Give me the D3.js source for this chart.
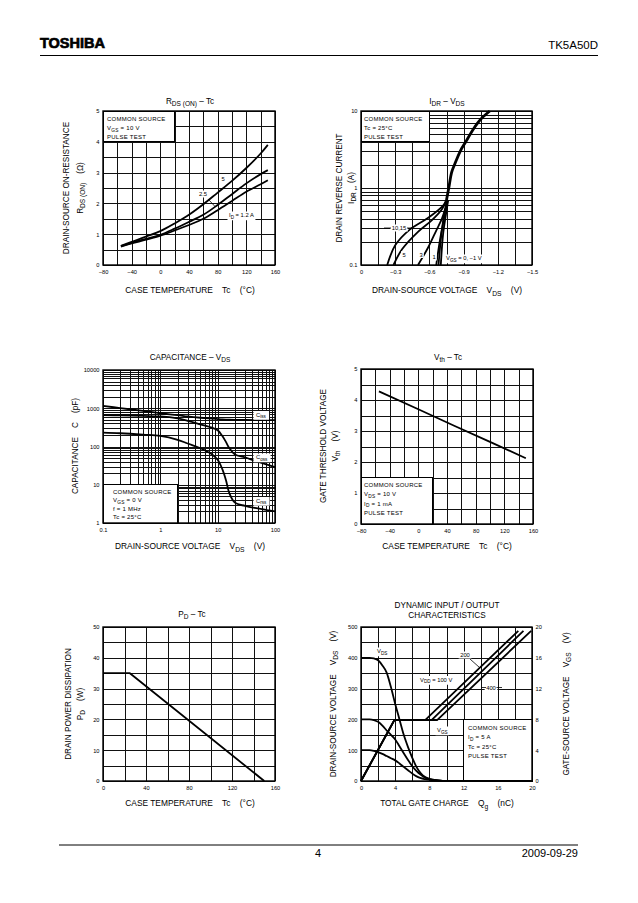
<!DOCTYPE html>
<html><head><meta charset="utf-8">
<script src="https://cdn.jsdelivr.net/npm/d3@7"></script>
<style>
body{margin:0;background:#fff}
svg{display:block}
text{font-family:"Liberation Sans",Arial,sans-serif;fill:#000;white-space:pre}
</style>
</head><body>
<svg id="c" width="638" height="903"></svg>
<script>
// ---------------- DATA ----------------
// R_DS(ON) – Tc
const rdsTc     = [-55,-40,-20,0,20,40,60,80,100,120,140,150];
const rdsId5    = [0.62,0.75,0.92,1.10,1.35,1.63,1.97,2.35,2.73,3.15,3.62,3.90];
const rdsId2p5  = [0.61,0.72,0.85,0.98,1.18,1.40,1.63,1.95,2.30,2.65,2.95,3.08];
const rdsId1p2  = [0.60,0.70,0.82,0.95,1.12,1.30,1.50,1.78,2.08,2.38,2.62,2.75];
const rdsXTicks = [-80,-40,0,40,80,120,160];
const rdsYTicks = [0,1,2,3,4,5];

// I_DR – V_DS
const idrCommonV = [-0.75,-0.77,-0.795,-0.82,-0.87,-0.92,-0.985,-1.05,-1.13];
const idrCommonI = [0.7,1,1.6,2,3,4,5.8,7.8,10];
const idrVgs10V  = [-0.23,-0.30,-0.43,-0.59,-0.72,-0.75];
const idrVgs10I  = [0.1,0.18,0.29,0.41,0.59,0.7];
const idrVgs5V   = [-0.285,-0.36,-0.50,-0.62,-0.71,-0.75];
const idrVgs5I   = [0.1,0.16,0.27,0.38,0.53,0.7];
const idrVgs3V   = [-0.50,-0.59,-0.66,-0.71,-0.74,-0.755];
const idrVgs3I   = [0.1,0.17,0.28,0.40,0.55,0.7];
const idrVgs1V   = [-0.66,-0.69,-0.72,-0.745,-0.76];
const idrVgs1I   = [0.1,0.2,0.35,0.55,0.7];
const idrVgs0V   = [-0.68,-0.705,-0.73,-0.76];
const idrVgs0I   = [0.1,0.25,0.45,0.7];
const idrVgsM1V  = [-0.70,-0.72,-0.745,-0.765];
const idrVgsM1I  = [0.1,0.25,0.45,0.7];
const idrXTicks  = [0,-0.3,-0.6,-0.9,-1.2,-1.5];
const idrYTicks  = [0.1,1,10];

// Capacitance – V_DS
const capV = [0.1,0.2,0.5,1,2,3,5,8,10,12,14,16,20,30,50,100];
const ciss = [1150,1010,850,740,660,610,565,535,522,512,506,502,498,494,490,488];
const coss = [660,650,630,610,540,470,380,310,265,190,130,90,62,52,40,29];
const crss = [230,222,205,190,150,120,90,62,45,26,13,6,3.4,2.8,2.4,2.0];
const capXTicks = [0.1,1,10,100];
const capYTicks = [1,10,100,1000,10000];

// Vth – Tc
const vthTc = [-55,0,50,100,150];
const vth   = [4.28,3.70,3.17,2.65,2.12];
const vthYTicks = [0,1,2,3,4,5];

// PD – Tc
const pdTc = [0,25,150];
const pd   = [35,35,0];
const pdXTicks = [0,40,80,120,160];
const pdYTicks = [0,10,20,30,40,50];

// Dynamic input/output
const qgVds  = [0,1,1.5,2,2.5,3,3.5,4,4.5,5,5.5,6,6.5,7,7.5,8,9,10,20];
const vds400 = [400,400,398,392,375,352,305,250,200,150,110,75,45,25,13,7,2,0,0];
const vds200 = [200,200,198,192,180,164,150,135,113,90,68,48,32,20,11,6,2,0,0];
const vds100 = [100,100,98,94,88,81,74,67,57,46,35,24,15,9,6,4,1,0,0];
const qgVgs100 = [0,3.9,7.5,18.4];  const vgs100 = [0,7.9,7.9,19.5];
const qgVgs200 = [0,3.9,8.25,19.0]; const vgs200 = [0,7.9,7.9,19.5];
const qgVgs400 = [0,3.9,8.9,19.9];  const vgs400 = [0,7.9,7.9,19.5];
const dynXTicks = [0,4,8,12,16,20];
const dynYTicks = [0,100,200,300,400,500];
const dynY2Ticks = [0,4,8,12,16,20];

// ---------------- HELPERS ----------------
const svg = d3.select("#c");
const zip = (a,b) => a.map((v,i)=>[v,b[i]]);
const fmtMinus = d => d < 0 ? "\u2212" + Math.abs(d) : String(d);
const LAB = 8.4;      // axis label font size
const SP = "    ";    // gap between label parts

function rt(parent, x, y, parts, size, anchor, rot) {
  const t = parent.append("text").attr("x",x).attr("y",y)
    .attr("font-size",size).attr("text-anchor",anchor||"start");
  if (rot) t.attr("transform",`rotate(-90 ${x} ${y})`);
  let sub = false;
  parts.forEach(p => {
    const isSub = Array.isArray(p);
    const ts = t.append("tspan").text(isSub ? p[0] : p);
    if (isSub) {
      ts.attr("font-size", size*0.8);
      if (!sub) { ts.attr("dy", size*0.3); sub = true; }
    } else if (sub) { ts.attr("dy", -size*0.3); sub = false; }
  });
  return t;
}
function bg(t, pad) {
  const b = t.node().getBBox();
  d3.select(t.node().parentNode).insert("rect", () => t.node())
    .attr("x", b.x-pad).attr("y", b.y-0.5).attr("width", b.width+2*pad).attr("height", b.height+1)
    .attr("fill","#fff");
}

function panel(o) {
  const g = svg.append("g");
  const gx = g.append("g").attr("transform",`translate(0,${o.b})`)
    .call(d3.axisBottom(o.x).tickValues(o.xGrid).tickSize(-(o.b-o.t)).tickFormat(""));
  gx.select(".domain").remove();
  gx.selectAll("line").attr("stroke","#111").attr("stroke-width",1).attr("shape-rendering","crispEdges");
  const gy = g.append("g").attr("transform",`translate(${o.l},0)`)
    .call(d3.axisLeft(o.y).tickValues(o.yGrid).tickSize(-(o.r-o.l)).tickFormat(""));
  gy.select(".domain").remove();
  gy.selectAll("line").attr("stroke","#111").attr("stroke-width",1).attr("shape-rendering","crispEdges");
  (o.boxes||[]).forEach(bx => {
    const x0 = o.x(bx[0]), x1 = o.x(bx[1]), y0 = o.y(bx[2]), y1 = o.y(bx[3]);
    g.append("rect").attr("x",Math.min(x0,x1)).attr("y",Math.min(y0,y1))
      .attr("width",Math.abs(x1-x0)).attr("height",Math.abs(y1-y0))
      .attr("fill","#fff").attr("stroke","#000").attr("stroke-width",1).attr("shape-rendering","crispEdges");
  });
  g.append("rect").attr("x",o.l).attr("y",o.t).attr("width",o.r-o.l).attr("height",o.b-o.t)
    .attr("fill","none").attr("stroke","#000").attr("stroke-width",1.4);
  const ax = g.append("g").attr("transform",`translate(0,${o.b})`)
    .call(d3.axisBottom(o.x).tickValues(o.xTicks).tickSize(0).tickPadding(5).tickFormat(o.xFmt||fmtMinus));
  ax.select(".domain").remove();
  ax.attr("font-family",null).attr("font-size",5.7);
  const ay = g.append("g").attr("transform",`translate(${o.l},0)`)
    .call(d3.axisLeft(o.y).tickValues(o.yTicks).tickSize(0).tickPadding(3.5).tickFormat(o.yFmt||fmtMinus));
  ay.select(".domain").remove();
  ay.attr("font-family",null).attr("font-size",5.7);
  return g;
}
function curve(g, pts, x, y, c, w) {
  g.append("path").datum(pts)
    .attr("d", d3.line().x(d=>x(d[0])).y(d=>y(d[1])).curve(c||d3.curveCatmullRom))
    .attr("fill","none").attr("stroke","#000").attr("stroke-width",w||1.8)
    .attr("stroke-linejoin","round");
}
function legendText(g, x, y0, step, lines) {
  lines.forEach((ln,i) => rt(g, x, y0 + i*step, ln, 6, "start").attr("letter-spacing",0.25));
}
const linspace = (a,b,s) => d3.range(a, b + s/2, s);
const logGrid = (lo, hi) => { const v=[]; for (let d=lo; d<hi; d*=10) for (let k=1;k<10;k++) v.push(+(d*k).toPrecision(3)); v.push(hi); return v; };

// ---------------- HEADER / FOOTER ----------------
svg.append("text").attr("x",40).attr("y",48).attr("font-size",14.5)
  .attr("font-family","DejaVu Sans").attr("font-weight","bold")
  .attr("stroke","#000").attr("stroke-width",0.7)
  .attr("textLength",65).attr("lengthAdjust","spacingAndGlyphs").text("TOSHIBA");
svg.append("text").attr("x",598).attr("y",49).attr("font-size",11.5).attr("text-anchor","end").text("TK5A50D");
svg.append("line").attr("x1",40).attr("x2",598).attr("y1",55.5).attr("y2",55.5).attr("stroke","#000").attr("stroke-width",1);
svg.append("line").attr("x1",59).attr("x2",578).attr("y1",845).attr("y2",845).attr("stroke","#000").attr("stroke-width",1);
svg.append("text").attr("x",318).attr("y",857).attr("font-size",11).attr("text-anchor","middle").text("4");
svg.append("text").attr("x",578).attr("y",857).attr("font-size",11).attr("text-anchor","end").text("2009-09-29");

// ---------------- CHART 1: RDS(ON) – Tc ----------------
{
  const o = {l:103,r:275,t:111,b:265};
  o.x = d3.scaleLinear().domain([-80,160]).range([o.l,o.r]);
  o.y = d3.scaleLinear().domain([0,5]).range([o.b,o.t]);
  o.xGrid = linspace(-80,160,20); o.yGrid = linspace(0,5,0.5);
  o.xTicks = rdsXTicks; o.yTicks = rdsYTicks;
  o.boxes = [[-80,20,4,5]];
  const g = panel(o);
  legendText(g, 107, 121, 9, [["COMMON SOURCE"],["V",["GS"]," = 10 V"],["PULSE TEST"]]);
  curve(g, zip(rdsTc,rdsId5), o.x, o.y);
  curve(g, zip(rdsTc,rdsId2p5), o.x, o.y);
  curve(g, zip(rdsTc,rdsId1p2), o.x, o.y);
  bg(rt(g, 223, 181, ["5"], 5.8, "middle"), 1.5);
  bg(rt(g, 203, 196, ["2.5"], 5.8, "middle"), 1.5);
  g.append("line").attr("x1",208).attr("y1",199).attr("x2",215.5).attr("y2",207).attr("stroke","#000").attr("stroke-width",0.8);
  bg(rt(g, 229, 217, ["I",["D"]," = 1.2 A"], 5.8, "start"), 1.5);
  rt(svg, 190, 104, ["R",["DS (ON)"]," \u2013 Tc"], 8.2, "middle");
  rt(svg, 190, 293, ["CASE TEMPERATURE"+SP+"Tc"+SP+"(\u00B0C)"], LAB, "middle");
  rt(svg, 69, 188, ["DRAIN-SOURCE ON-RESISTANCE"], 8.2, "middle", true);
  rt(svg, 83, 188, ["R",["DS (ON)"],SP+"(\u03A9)"], 8.2, "middle", true);
}

// ---------------- CHART 2: IDR – VDS ----------------
{
  const o = {l:361,r:532,t:111,b:265};
  o.x = d3.scaleLinear().domain([0,-1.5]).range([o.l,o.r]);
  o.y = d3.scaleLog().domain([0.1,10]).range([o.b,o.t]);
  o.xGrid = linspace(0,1.5,0.15).map(v=>-v); o.yGrid = logGrid(0.1,10);
  o.xTicks = idrXTicks; o.yTicks = idrYTicks;
  o.xFmt = d => d===0 ? "0" : "\u2212" + Math.abs(d).toFixed(1);
  o.yFmt = d => String(d);
  o.boxes = [[0,-0.6,4,10]];
  const g = panel(o);
  legendText(g, 364, 121, 9, [["COMMON SOURCE"],["Tc = 25\u00B0C"],["PULSE TEST"]]);
  curve(g, zip(idrVgs10V,idrVgs10I), o.x, o.y);
  curve(g, zip(idrVgs5V,idrVgs5I), o.x, o.y);
  curve(g, zip(idrVgs3V,idrVgs3I), o.x, o.y);
  curve(g, zip(idrVgs1V,idrVgs1I), o.x, o.y);
  curve(g, zip(idrVgs0V,idrVgs0I), o.x, o.y);
  curve(g, zip(idrVgsM1V,idrVgsM1I), o.x, o.y);
  curve(g, zip(idrCommonV,idrCommonI), o.x, o.y, d3.curveCatmullRom, 2.8);
  const t1 = rt(g, 399, 230, ["10,15"], 5.8, "middle"); bg(t1,1.5);
  g.append("line").attr("x1",384).attr("x2",391).attr("y1",228).attr("y2",228).attr("stroke","#000").attr("stroke-width",0.8);
  g.append("line").attr("x1",407).attr("x2",413).attr("y1",228).attr("y2",228).attr("stroke","#000").attr("stroke-width",0.8);
  bg(rt(g, 404, 256.5, ["5"], 5.8, "middle"), 1.2);
  bg(rt(g, 421, 256.5, ["3"], 5.8, "middle"), 1.2);
  bg(rt(g, 434, 259, ["1"], 5.8, "middle"), 1.2);
  bg(rt(g, 446, 260, ["V",["GS"]," = 0, \u22121 V"], 5.8, "start"), 1.5);
  rt(svg, 447, 104, ["I",["DR"]," \u2013 V",["DS"]], 8.2, "middle");
  rt(svg, 447, 293, ["DRAIN-SOURCE VOLTAGE"+SP+"V",["DS"],SP+"(V)"], LAB, "middle");
  rt(svg, 342, 188, ["DRAIN REVERSE CURRENT"], 8.2, "middle", true);
  rt(svg, 354, 188, ["I",["DR"],SP+"(A)"], 8.2, "middle", true);
}

// ---------------- CHART 3: Capacitance ----------------
{
  const o = {l:103,r:275,t:370,b:523};
  o.x = d3.scaleLog().domain([0.1,100]).range([o.l,o.r]);
  o.y = d3.scaleLog().domain([1,10000]).range([o.b,o.t]);
  o.xGrid = logGrid(0.1,100); o.yGrid = logGrid(1,10000);
  o.xTicks = capXTicks; o.yTicks = capYTicks;
  o.xFmt = d => String(d); o.yFmt = d => String(d);
  o.boxes = [[0.1,2,1,10]];
  const g = panel(o);
  legendText(g, 113, 493.5, 8.6, [["COMMON SOURCE"],["V",["GS"]," = 0 V"],["f = 1 MHz"],["Tc = 25\u00B0C"]]);
  curve(g, zip(capV,ciss), o.x, o.y);
  curve(g, zip(capV,coss), o.x, o.y);
  curve(g, zip(capV,crss), o.x, o.y);
  bg(rt(g, 256, 416.5, ["C",["iss"]], 5.8, "start"), 2.5);
  bg(rt(g, 256, 459, ["C",["oss"]], 5.8, "start"), 2.5);
  bg(rt(g, 256, 502.5, ["C",["rss"]], 5.8, "start"), 2.5);
  rt(svg, 190, 360, ["CAPACITANCE \u2013 V",["DS"]], 8.2, "middle");
  rt(svg, 190, 549, ["DRAIN-SOURCE VOLTAGE"+SP+"V",["DS"],SP+"(V)"], LAB, "middle");
  rt(svg, 78, 446, ["CAPACITANCE"+SP+"C"+SP+"(pF)"], 8.2, "middle", true);
}

// ---------------- CHART 4: Vth – Tc ----------------
{
  const o = {l:361,r:533,t:369,b:524};
  o.x = d3.scaleLinear().domain([-80,160]).range([o.l,o.r]);
  o.y = d3.scaleLinear().domain([0,5]).range([o.b,o.t]);
  o.xGrid = linspace(-80,160,20); o.yGrid = linspace(0,5,0.5);
  o.xTicks = rdsXTicks; o.yTicks = vthYTicks;
  o.boxes = [[-80,20,0,1.5]];
  const g = panel(o);
  legendText(g, 364, 487, 9.3, [["COMMON SOURCE"],["V",["DS"]," = 10 V"],["I",["D"]," = 1 mA"],["PULSE TEST"]]);
  curve(g, zip(vthTc,vth), o.x, o.y, d3.curveLinear);
  rt(svg, 448, 360, ["V",["th"]," \u2013 Tc"], 8.2, "middle");
  rt(svg, 447, 549, ["CASE TEMPERATURE"+SP+"Tc"+SP+"(\u00B0C)"], LAB, "middle");
  rt(svg, 326, 446, ["GATE THRESHOLD VOLTAGE"], 8.2, "middle", true);
  rt(svg, 338, 446, ["V",["th"],SP+"(V)"], 8.2, "middle", true);
}

// ---------------- CHART 5: PD – Tc ----------------
{
  const o = {l:103,r:275,t:627,b:781};
  o.x = d3.scaleLinear().domain([0,160]).range([o.l,o.r]);
  o.y = d3.scaleLinear().domain([0,50]).range([o.b,o.t]);
  o.xGrid = linspace(0,160,20); o.yGrid = linspace(0,50,5);
  o.xTicks = pdXTicks; o.yTicks = pdYTicks;
  const g = panel(o);
  curve(g, zip(pdTc,pd), o.x, o.y, d3.curveLinear);
  rt(svg, 192, 617, ["P",["D"]," \u2013 Tc"], 8.2, "middle");
  rt(svg, 190, 806, ["CASE TEMPERATURE"+SP+"Tc"+SP+"(\u00B0C)"], LAB, "middle");
  rt(svg, 71, 704, ["DRAIN POWER DISSIPATION"], 8.2, "middle", true);
  rt(svg, 83, 704, ["P",["D"],SP+"(W)"], 8.2, "middle", true);
}

// ---------------- CHART 6: Dynamic ----------------
{
  const o = {l:361,r:532,t:627,b:781};
  o.x = d3.scaleLinear().domain([0,20]).range([o.l,o.r]);
  o.y = d3.scaleLinear().domain([0,500]).range([o.b,o.t]);
  const y2 = d3.scaleLinear().domain([0,20]).range([o.b,o.t]);
  o.xGrid = linspace(0,20,2); o.yGrid = linspace(0,500,50);
  o.xTicks = dynXTicks; o.yTicks = dynYTicks;
  o.boxes = [[12,20,0,200]];
  const g = panel(o);
  const ar = g.append("g").attr("transform",`translate(${o.r},0)`)
    .call(d3.axisRight(y2).tickValues(dynY2Ticks).tickSize(0).tickPadding(3.5));
  ar.select(".domain").remove();
  ar.attr("font-family",null).attr("font-size",5.7);
  legendText(g, 468, 729.5, 9.5, [["COMMON SOURCE"],["I",["D"]," = 5 A"],["Tc = 25\u00B0C"],["PULSE TEST"]]);
  curve(g, zip(qgVds,vds400), o.x, o.y, d3.curveMonotoneX);
  curve(g, zip(qgVds,vds200), o.x, o.y, d3.curveMonotoneX);
  curve(g, zip(qgVds,vds100), o.x, o.y, d3.curveMonotoneX);
  curve(g, zip(qgVgs100,vgs100), o.x, y2, d3.curveLinear);
  curve(g, zip(qgVgs200,vgs200), o.x, y2, d3.curveLinear);
  curve(g, zip(qgVgs400,vgs400), o.x, y2, d3.curveLinear);
  bg(rt(g, 377, 653, ["V",["DS"]], 5.8, "start"), 1.5);
  bg(rt(g, 465, 657, ["200"], 5.8, "middle"), 1.5);
  g.append("line").attr("x1",470).attr("y1",659).attr("x2",479.5).attr("y2",667.5).attr("stroke","#000").attr("stroke-width",0.8);
  bg(rt(g, 420, 681.5, ["V",["DD"]," = 100 V"], 5.8, "start"), 1.5);
  bg(rt(g, 491, 689.5, ["400"], 5.8, "middle"), 1.5);
  g.append("line").attr("x1",481).attr("x2",486).attr("y1",687.5).attr("y2",687.5).attr("stroke","#000").attr("stroke-width",0.8);
  g.append("line").attr("x1",496.5).attr("x2",502).attr("y1",687.5).attr("y2",687.5).attr("stroke","#000").attr("stroke-width",0.8);
  bg(rt(g, 437, 732, ["V",["GS"]], 5.8, "start"), 1.5);
  rt(svg, 447, 608, ["DYNAMIC INPUT / OUTPUT"], 8.2, "middle");
  rt(svg, 447, 618, ["CHARACTERISTICS"], 8.2, "middle");
  rt(svg, 447, 806, ["TOTAL GATE CHARGE"+SP+"Q",["g"],SP+"(nC)"], LAB, "middle");
  rt(svg, 336, 704, ["DRAIN-SOURCE VOLTAGE"+SP+"V",["DS"],SP+"(V)"], 8.2, "middle", true);
  rt(svg, 569, 704, ["GATE-SOURCE VOLTAGE"+SP+"V",["GS"],SP+"(V)"], 8.2, "middle", true);
}
</script>
</body></html>
